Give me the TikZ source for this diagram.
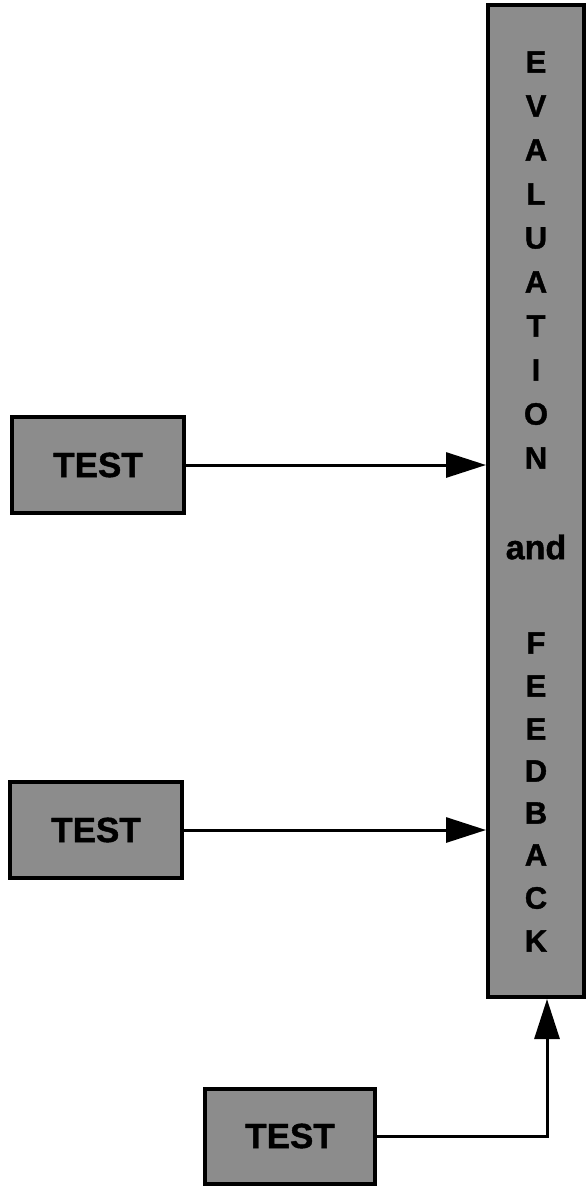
\documentclass[tikz,border=0pt]{standalone}
\usepackage{fontspec}
\setmainfont{Liberation Sans}
\newfontfamily\heavy[FakeBold=1.2]{Liberation Sans Bold}
\usetikzlibrary{arrows.meta}
\tikzset{
  shaded/.style={draw=black, line width=4pt, fill=black!45, inner sep=0pt},
  testbox/.style={shaded, minimum width=172pt, minimum height=96pt, font=\fontsize{35}{35}\selectfont\heavy},
  letter/.style={font=\fontsize{31}{31}\selectfont\heavy, inner sep=0pt, anchor=center},
  conn/.style={line width=3pt, -{Triangle[length=40pt,width=25pt]}}
}
\begin{document}
\begin{tikzpicture}[x=1pt,y=1pt]
\useasboundingbox (0,0) rectangle (588,-1187);
\node[shaded, minimum width=96pt, minimum height=992pt] (eval) at (536,-501) {};
\foreach \ch/\yy [count=\i] in {E/62,V/106,A/150,L/194,U/238,A/282,T/326,I/370,O/414,N/458,F/643,E/686,E/729,D/771,B/813,A/855,C/898,K/941}
  \node[letter] (l\i) at (536,-\yy) {\ch};
\node[letter, font=\fontsize{34}{34}\selectfont\heavy] (and) at (536,-547) {and};
\node[testbox] (t1) at (98,-465) {TEST};
\node[testbox] (t2) at (96,-830) {TEST};
\node[testbox, minimum width=170pt, minimum height=95pt] (t3) at (290,-1136) {TEST};
\coordinate (ein) at ([xshift=11pt]eval.south);
\draw[conn] (t1.east) -- (t1.east -| eval.west);
\draw[conn] (t2.east) -- (t2.east -| eval.west);
\draw[conn] (t3.east) -| (ein);
\end{tikzpicture}
\end{document}
